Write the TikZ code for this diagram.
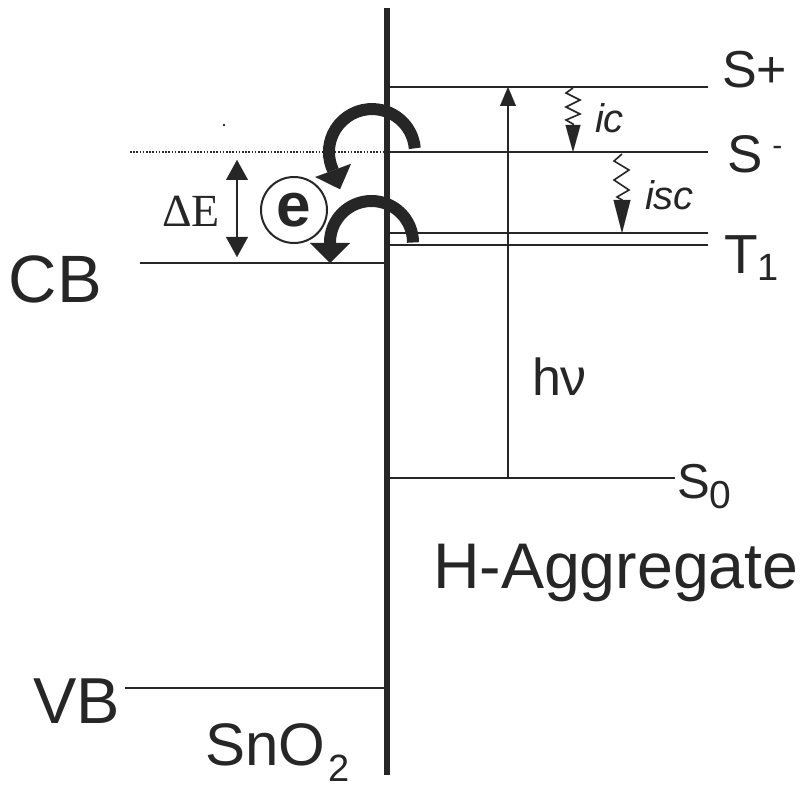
\documentclass[tikz,border=0pt]{standalone}
\usepackage{fontspec}
\setmainfont{Liberation Sans}
\newfontfamily\serifTNR{Liberation Serif}
\usetikzlibrary{arrows.meta}
\definecolor{ink}{HTML}{262626}
\tikzset{
  lbl/.style={inner sep=0pt, outer sep=0pt, text=ink, anchor=base west},
  level/.style={draw=ink, line width=2pt},
  thinarrow/.style={draw=ink, line width=2pt, -{Triangle[length=19pt,width=16pt,line width=0.01pt]}},
  wavyarrow/.style={draw=ink, line width=1.6pt, line join=miter},
  bigarrow/.style={draw=ink, line width=12pt},
  ecircle/.style={circle, draw=ink, line width=2pt, minimum size=66pt, inner sep=0pt, text=ink, font=\bfseries\fontsize{62}{62}\selectfont}
}
\begin{document}
\begin{tikzpicture}[x=1pt,y=-1pt]
\useasboundingbox (0,0) rectangle (807,789);
% interface
\coordinate (itop) at (387,8);
\coordinate (ibot) at (387,775);
\draw[ink, line width=6pt] (itop) -- (ibot);
% levels
\coordinate (sp0) at (387,87);   \coordinate (sp1) at (708,87);
\coordinate (sm0) at (387,152);  \coordinate (sm1) at (708,152);
\coordinate (ta0) at (387,233);  \coordinate (ta1) at (708,233);
\coordinate (tb0) at (387,245.5);\coordinate (tb1) at (708,245.5);
\coordinate (s00) at (387,478);  \coordinate (s01) at (675,478);
\coordinate (cb0) at (140,263);  \coordinate (cb1) at (387,263);
\coordinate (vb0) at (125,688);  \coordinate (vb1) at (387,688);
\coordinate (dt0) at (130,152);  \coordinate (dt1) at (387,152);
\draw[level] (sp0) -- (sp1);
\draw[level] (sm0) -- (sm1);
\draw[level] (ta0) -- (ta1);
\draw[level] (tb0) -- (tb1);
\draw[level] (s00) -- (s01);
\draw[level] (cb0) -- (cb1);
\draw[level] (vb0) -- (vb1);
\draw[draw=ink, line width=1.6pt, dash pattern=on 1.6pt off 1.6pt] (dt0) -- (dt1);
\fill[ink] (224,125) circle[radius=1.3pt];
% h nu excitation
\coordinate (hv0) at (508,478);
\coordinate (hv1) at (508,87);
\draw[thinarrow] (hv0) -- (hv1);
% ic
\coordinate (ic0) at (573,88);
\coordinate (ic1) at (573,152);
\draw[wavyarrow, -{Triangle[length=27pt,width=15pt,line width=0.01pt]}]
  (ic0) -- (566,93) -- (580,100) -- (566,107) -- (580,114) -- (566,120) -- (573,124) -- (ic1);
% isc
\coordinate (isc0) at (622,154);
\coordinate (isc1) at (622,233);
\draw[wavyarrow, -{Triangle[length=33pt,width=17pt,line width=0.01pt]}]
  (isc0) -- (614,161) -- (629,170) -- (614,180) -- (629,190) -- (617,197) -- (622,200) -- (isc1);
% Delta E
\coordinate (de0) at (237,160);
\coordinate (de1) at (237,257);
\draw[draw=ink, line width=2pt, {Triangle[length=20pt,width=22pt,line width=0.01pt]}-{Triangle[length=20pt,width=22pt,line width=0.01pt]}] (de0) -- (de1);
% electron
\node[ecircle] (e) at (294,210) {e};
% curved transfer arrows
\coordinate (ua0) at (414.8,148.3);
\coordinate (la0) at (413,242.5);
\draw[bigarrow, -{Triangle[length=20pt,width=38pt,line width=0.01pt]}]
  (ua0) arc[start angle=5, end angle=205, radius=43pt] -- ++(7,19);
\draw[bigarrow, -{Triangle[length=20pt,width=40pt,line width=0.01pt]}]
  (la0) arc[start angle=0, end angle=180, radius=41.5pt] -- ++(0,20.5);
% labels
\node[lbl] (Splus) at (722,88) {\fontsize{52}{52}\selectfont S+};
\node[lbl] (Sminus) at (727,173) {\fontsize{53}{53}\selectfont S\hspace{10pt}\raisebox{17pt}{\fontsize{30}{30}\selectfont -}};
\node[lbl] (T1) at (724,273) {\fontsize{55}{55}\selectfont T\raisebox{-7pt}{\fontsize{38}{38}\selectfont 1}};
\node[lbl] (S0) at (677,498) {\fontsize{49}{49}\selectfont S\raisebox{-10pt}{\fontsize{39}{39}\selectfont 0}};
\node[lbl] (CB) at (9,302) {\fontsize{67}{67}\selectfont CB};
\node[lbl] (VB) at (33,723) {\fontsize{65}{65}\selectfont VB};
\node[lbl] (SnO) at (205,765) {\fontsize{60}{60}\selectfont SnO\hspace{3pt}\raisebox{-16pt}{\fontsize{38}{38}\selectfont 2}};
\node[lbl] (HA) at (433,588) {\fontsize{64.5}{64.5}\selectfont H-Aggregate};
\node[lbl] (hnu) at (532,395) {\fontsize{52}{52}\selectfont hν};
\node[lbl] (ic) at (595,133) {\fontsize{40}{40}\selectfont\itshape ic};
\node[lbl] (isc) at (645,210) {\fontsize{40}{40}\selectfont\itshape isc};
\node[lbl] (dE) at (162,227) {\serifTNR\fontsize{46}{46}\selectfont ΔE};
\end{tikzpicture}
\end{document}
